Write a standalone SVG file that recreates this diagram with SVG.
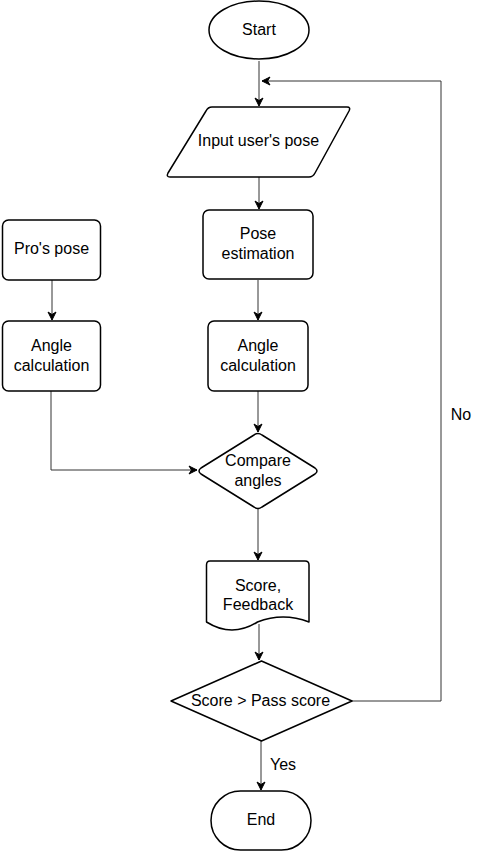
<svg xmlns="http://www.w3.org/2000/svg" width="491" height="852" viewBox="0 0 491 852">
<defs>
<style>
.s{fill:#fff;stroke:#000;stroke-width:1.5;stroke-linejoin:round}
.t{font-family:"Liberation Sans",Arial,sans-serif;font-size:16px;fill:#000;text-anchor:middle}
.c{fill:none;stroke:#333;stroke-width:1;marker-end:url(#a)}
</style>
<marker id="a" viewBox="0 0 10 10" refX="9" refY="5" markerWidth="10" markerHeight="10" markerUnits="userSpaceOnUse" orient="auto">
<path d="M1,1 L9,5 L1,9 L3.5,5 Z" fill="#000" stroke="#000" stroke-width="1"/>
</marker>
</defs>
<rect width="491" height="852" fill="#fff"/>
<g id="connectors">
<path class="c" d="M259,61 V106"/>
<path class="c" d="M352,701 H441 V81 H262"/>
<path class="c" d="M259,177 V209"/>
<path class="c" d="M258,280 V320"/>
<path class="c" d="M52,280 V320"/>
<path class="c" d="M258,391 V432"/>
<path class="c" d="M51,391 V470 H197"/>
<path class="c" d="M258,509 V560"/>
<path class="c" d="M259,624 V660"/>
<path class="c" d="M261,741 V790"/>
</g>
<g id="start"><ellipse class="s" cx="259" cy="30" rx="50" ry="29"/><text class="t" x="259" y="35">Start</text></g>
<g id="input"><path class="s" d="M212,107 H347 Q351,107 349,111 L315,173 Q313,177 309,177 H170 Q166,177 168,173 L206,111 Q208,107 212,107 Z"/><text class="t" x="258.5" y="146">Input user's pose</text></g>
<g id="pose-estimation"><rect class="s" x="203" y="210" width="110" height="69" rx="6"/><text class="t" x="258" y="239">Pose</text><text class="t" x="258" y="259">estimation</text></g>
<g id="pros-pose"><rect class="s" x="2.5" y="220" width="98" height="60" rx="6"/><text class="t" x="51.5" y="254">Pro's pose</text></g>
<g id="angle-left"><rect class="s" x="2.5" y="321" width="98" height="70" rx="6"/><text class="t" x="51.5" y="351">Angle</text><text class="t" x="51.5" y="371">calculation</text></g>
<g id="angle-right"><rect class="s" x="208" y="321" width="100" height="70" rx="6"/><text class="t" x="258" y="351">Angle</text><text class="t" x="258" y="371">calculation</text></g>
<g id="compare"><path class="s" d="M254,435 Q258,432 262,435 L315,468 Q319,471 315,474 L262,507 Q258,510 254,507 L201,474 Q197,471 201,468 Z"/><text class="t" x="258" y="466">Compare</text><text class="t" x="258" y="486">angles</text></g>
<g id="score-feedback"><path class="s" d="M210,561 H305 Q309,561 309,565 V622 Q283,612 257.5,622 Q232,638 206.5,622 V565 Q206.5,561 210,561 Z"/><text class="t" x="258" y="591">Score,</text><text class="t" x="258" y="610">Feedback</text></g>
<g id="pass-decision"><path class="s" d="M261.5,661 L352,701 L261.5,741 L171,701 Z"/><text class="t" x="260.5" y="706">Score &gt; Pass score</text></g>
<g id="end"><rect class="s" x="211" y="791" width="100" height="59" rx="29.5"/><text class="t" x="261" y="825">End</text></g>
<g id="labels"><text class="t" x="283" y="770">Yes</text><text class="t" x="461" y="420">No</text></g>
</svg>
